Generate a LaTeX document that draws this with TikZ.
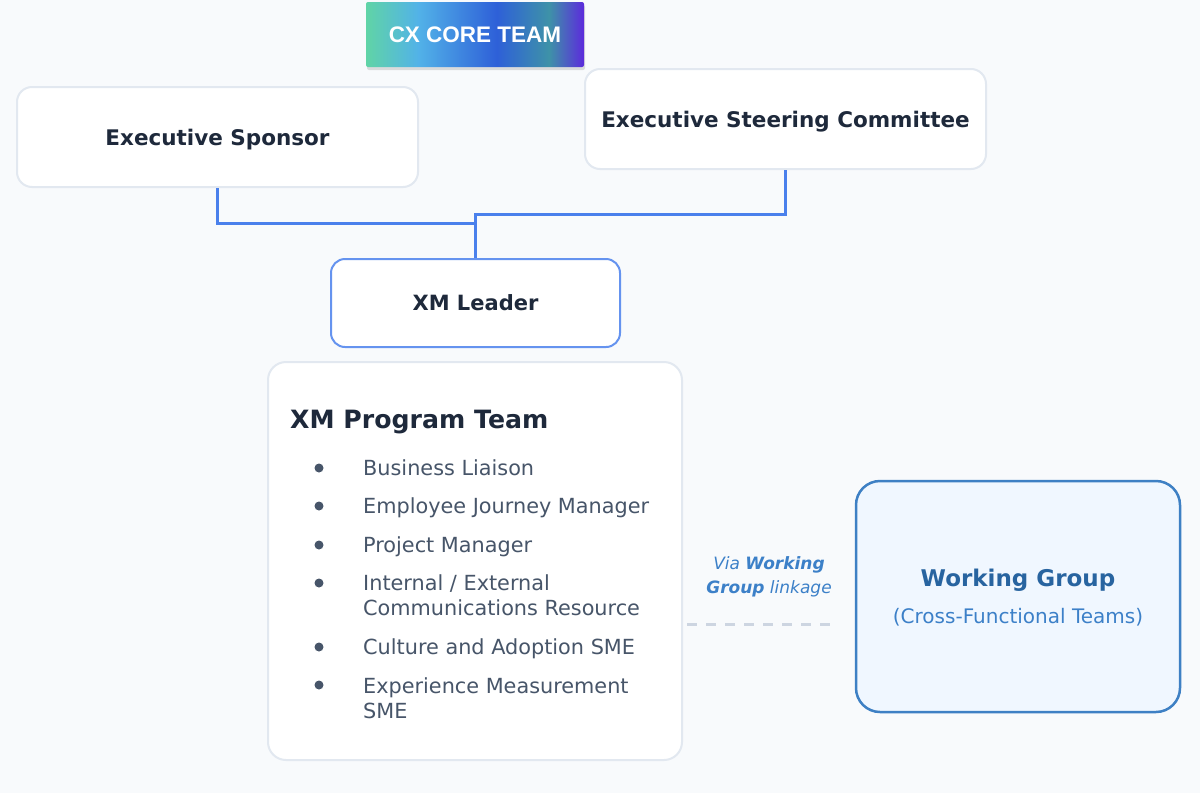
\documentclass[tikz,border=0pt]{standalone}
\usepackage{fontspec}
\setmainfont{DejaVu Sans}
\newfontfamily\corefont{Liberation Sans}
\definecolor{bgcol}{RGB}{248,250,252}
\definecolor{cardline}{RGB}{226,232,240}
\definecolor{linkblue}{RGB}{74,128,236}
\definecolor{darktext}{RGB}{30,41,59}
\definecolor{itemgray}{RGB}{71,85,105}
\definecolor{wgfill}{RGB}{240,247,255}
\definecolor{wgline}{RGB}{62,128,196}
\definecolor{wgtitle}{RGB}{40,100,160}
\definecolor{wgsub}{RGB}{60,128,200}
\definecolor{dashgray}{RGB}{205,213,225}
\definecolor{gradA}{RGB}{96,212,166}
\definecolor{gradB}{RGB}{82,178,232}
\definecolor{gradC}{RGB}{46,96,216}
\definecolor{gradD}{RGB}{62,146,168}
\definecolor{gradE}{RGB}{92,42,220}
\usetikzlibrary{positioning,shadows}
\pgfdeclarehorizontalshading{coregrad}{100bp}{color(0bp)=(gradA); color(25bp)=(gradA); color(37bp)=(gradB); color(55bp)=(gradC); color(67bp)=(gradD); color(75bp)=(gradE); color(100bp)=(gradE)}
\tikzset{
  card/.style={draw=cardline, line width=2pt, fill=white, rounded corners=15pt, minimum width=401pt, minimum height=100pt, text depth=0pt, font=\fontsize{21.5}{26}\selectfont\bfseries, text=darktext},
  leaderbox/.style={draw=linkblue!85, line width=2pt, fill=white, rounded corners=14pt, minimum width=289pt, minimum height=88pt, font=\fontsize{21}{25}\selectfont\bfseries, text=darktext},
  corebox/.style={shading=coregrad, rounded corners=2pt, minimum width=218pt, minimum height=65pt, font=\corefont\fontsize{22.5}{26}\selectfont\bfseries, text=white, drop shadow={opacity=0.25, shadow xshift=1pt, shadow yshift=-3pt}},
  teambox/.style={draw=cardline, line width=2pt, fill=white, rounded corners=18pt, minimum width=414pt, minimum height=398pt},
  itemtext/.style={anchor=base west, align=left, inner sep=0pt, text=itemgray, font=\fontsize{20.8}{25}\selectfont},
  dot/.style={circle, fill=itemgray, inner sep=0pt, minimum size=9pt},
  wgbox/.style={draw=wgline, line width=2.5pt, fill=wgfill, rounded corners=24pt, minimum width=324pt, minimum height=231pt},
  orgline/.style={linkblue, line width=3pt},
  linkdash/.style={dashgray, line width=3pt, dash pattern=on 10pt off 9pt}
}
\begin{document}
\begin{tikzpicture}[x=1pt, y=-1pt]
  % Background
  \fill[bgcol] (0,0) rectangle (1200,793);
  \useasboundingbox (0,0) rectangle (1200,793);

  % Core team banner
  \node[corebox] (core) at (475,34.5) {CX CORE TEAM};

  % Executive boxes
  \node[card] (sponsor) at (217.5,137) {Executive Sponsor};
  \node[card] (steering) at (785.5,119) {Executive Steering Committee};

  % XM Leader
  \node[leaderbox] (leader) at (475.5,303) {XM Leader};

  % Reporting lines
  \draw[orgline] (sponsor.south) -- ++(0,35) -| (leader.north);
  \draw[orgline] (steering.south) -- ++(0,44) -| (leader.north);

  % XM Program Team card
  \node[teambox] (team) at (475,561) {};
  \node[anchor=base west, inner sep=0pt, text=darktext, font=\fontsize{25.2}{30}\selectfont\bfseries] (teamtitle) at (290,428) {XM Program Team};

  \node[dot] (b1) at (319,468) {};
  \node[itemtext] (i1) at (363,475) {Business Liaison};
  \node[dot] (b2) at (319,506) {};
  \node[itemtext] (i2) at (363,513) {Employee Journey Manager};
  \node[dot] (b3) at (319,545) {};
  \node[itemtext] (i3) at (363,552) {Project Manager};
  \node[dot] (b4) at (319,583) {};
  \node[itemtext] (i4) at (363,615) {Internal / External\\Communications Resource};
  \node[dot] (b5) at (319,647) {};
  \node[itemtext] (i5) at (363,654) {Culture and Adoption SME};
  \node[dot] (b6) at (319,685) {};
  \node[itemtext] (i6) at (363,718) {Experience Measurement\\SME};

  % Working group
  \node[wgbox] (wg) at (1018,596.5) {};
  \node[text=wgtitle, font=\fontsize{23}{28}\selectfont\bfseries] (wgtitle) at (1018,580) {Working Group};
  \node[text=wgsub, font=\fontsize{20}{24}\selectfont] (wgsub) at (1018,617) {(Cross-Functional Teams)};

  % Dashed linkage
  \node[text=wgsub, align=center, font=\fontsize{17}{24}\selectfont\itshape] (via) at (769,577) {Via \textbf{Working}\\\textbf{Group} linkage};
  \coordinate (linkL) at (687,624);
  \coordinate (linkR) at (832,624);
  \draw[linkdash] (linkL) -- (linkR);
\end{tikzpicture}
\end{document}
